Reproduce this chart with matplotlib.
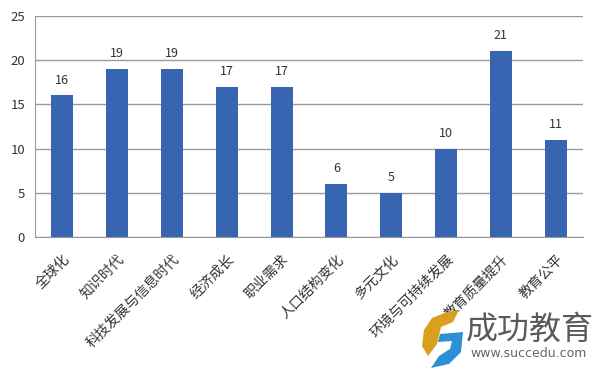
import matplotlib.pyplot as plt
from matplotlib.patches import Polygon
import numpy as np

plt.rcParams['font.family'] = ['Noto Sans CJK SC', 'DejaVu Sans']

# data
categories = ['全球化', '知识时代', '科技发展与信息时代', '经济成长', '职业需求',
              '人口结构变化', '多元文化', '环境与可持续发展', '教育质量提升', '教育公平']
values = [16, 19, 19, 17, 17, 6, 5, 10, 21, 11]
y_ticks = [0, 5, 10, 15, 20, 25]

fig = plt.figure(figsize=(6.0, 3.68), dpi=100)
ax = fig.add_axes([0.058, 0.356, 0.914, 0.601])

x = np.arange(len(categories))
ax.bar(x, values, width=0.4, color='#3865B1', zorder=3)

# value labels above bars
for xi, v in zip(x, values):
    ax.text(xi, v + 1.0, str(v), ha='center', va='bottom', fontsize=9, color='#333333')

ax.set_xlim(-0.5, len(categories) - 0.5)
ax.set_ylim(0, 25)
ax.set_yticks(y_ticks)
ax.yaxis.grid(True, color='#9a9a9a', linewidth=1.0, zorder=0)
ax.tick_params(axis='y', length=0, labelsize=9.5, labelcolor='#333333', pad=7)
ax.tick_params(axis='x', length=0, labelsize=10, labelcolor='#333333', pad=11)
ax.set_xticks(x)
ax.set_xticklabels(categories, rotation=45, ha='right', rotation_mode='anchor')

for side in ['top', 'right']:
    ax.spines[side].set_visible(False)
ax.spines['left'].set_color('#9a9a9a')
ax.spines['bottom'].set_color('#9a9a9a')

# watermark logo (pixel coords -> figure coords)
def px(pts):
    return [(a / 600, 1 - b / 368) for a, b in pts]

orange = [(447, 312), (459, 310), (453, 322), (441, 327), (437, 344), (428, 356),
          (422, 346), (424, 330), (432, 318)]
blue = [(440, 334), (463, 332), (461, 352), (449, 364), (431, 368), (439, 356),
        (450, 349), (452, 341), (438, 342)]
fig.patches.append(Polygon(px(orange), closed=True, transform=fig.transFigure,
                           facecolor='#D9A020', edgecolor='none'))
fig.patches.append(Polygon(px(blue), closed=True, transform=fig.transFigure,
                           facecolor='#2F8FD6', edgecolor='none'))

fig.text(0.99, 0.103, '成功教育', fontsize=23, color='#5a5a5a', ha='right', va='center')
fig.text(0.978, 0.040, 'www.succedu.com', fontsize=9, color='#666666', ha='right',
         va='center', family='Liberation Sans Narrow')

fig.savefig('out.png', dpi=100)
